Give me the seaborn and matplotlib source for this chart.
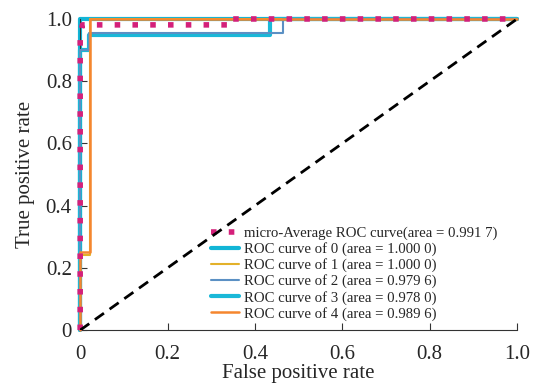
import matplotlib
matplotlib.use("Agg")
import matplotlib.pyplot as plt
import pandas as pd
import seaborn as sns

# ROC curve points
fpr_micro = [0.0, 0.0, 0.005, 0.35, 0.35, 1.0]
tpr_micro = [0.0, 0.95, 0.981, 0.981, 1.0, 1.0]

fpr_0 = [0.0, 0.0, 1.0]
tpr_0 = [0.0, 1.0, 1.0]

fpr_1 = [0.0, 0.0, 0.022, 0.022, 1.0]
tpr_1 = [0.0, 0.24, 0.24, 1.0, 1.0]

fpr_2 = [0.0, 0.0, 0.02, 0.02, 0.465, 0.465, 1.0]
tpr_2 = [0.0, 0.90, 0.90, 0.955, 0.955, 1.0, 1.0]

fpr_3 = [0.0, 0.0, 0.02, 0.02, 0.435, 0.435, 1.0]
tpr_3 = [0.0, 0.90, 0.90, 0.949, 0.949, 1.0, 1.0]

fpr_4 = [0.0, 0.0, 0.022, 0.022, 1.0]
tpr_4 = [0.0, 0.25, 0.25, 1.0, 1.0]

labels = ["micro-Average ROC curve(area = 0.991 7)",
          "ROC curve of 0 (area = 1.000 0)",
          "ROC curve of 1 (area = 1.000 0)",
          "ROC curve of 2 (area = 0.979 6)",
          "ROC curve of 3 (area = 0.978 0)",
          "ROC curve of 4 (area = 0.989 6)"]
ticks = [0, 0.2, 0.4, 0.6, 0.8, 1.0]
tick_labels = ["0", "0.2", "0.4", "0.6", "0.8", "1.0"]

sns.set_style("ticks")
plt.rcParams["font.family"] = ["Liberation Serif", "DejaVu Serif"]

fig = plt.figure(figsize=(5.53, 3.87), dpi=100)
ax = fig.add_axes([0.145, 0.147, 0.79, 0.804])

curves = [
    (fpr_0, tpr_0, "#12b5d6", 3.0, 1),
    (fpr_1, tpr_1, "#e3b12a", 1.5, 3),
    (fpr_2, tpr_2, "#5b90c4", 1.5, 3),
    (fpr_3, tpr_3, "#1ab8d8", 3.0, 2),
    (fpr_4, tpr_4, "#f5862e", 1.8, 4),
]
micro = pd.DataFrame({"fpr": fpr_micro, "tpr": tpr_micro})
sns.lineplot(data=micro, x="fpr", y="tpr", sort=False, estimator=None,
             color="#d4207a", lw=4, ls=(0, (1, 2.2)), label=labels[0],
             ax=ax, zorder=5, clip_on=False)
for (fx, ty, c, lw, z), lab in zip(curves, labels[1:]):
    d = pd.DataFrame({"fpr": fx, "tpr": ty})
    sns.lineplot(data=d, x="fpr", y="tpr", sort=False, estimator=None,
                 color=c, lw=lw, label=lab, ax=ax, zorder=z, clip_on=False)

ax.plot([0, 1], [0, 1], color="black", lw=2, ls=(0, (4, 2.5)), zorder=6)

ax.set_xlim(0, 1)
ax.set_ylim(0, 1)
ax.set_xticks(ticks)
ax.set_xticklabels(tick_labels)
ax.set_yticks(ticks)
ax.set_yticklabels(tick_labels)
ax.tick_params(direction="in", labelsize=15, length=5, color="#333333")
ax.tick_params(axis="x", pad=11)
ax.tick_params(axis="y", pad=6)
for s in ["top", "right"]:
    ax.spines[s].set_visible(False)
ax.spines["left"].set_color("#333333")
ax.spines["bottom"].set_color("#333333")
ax.set_xlabel("False positive rate", fontsize=15, labelpad=0)
ax.set_ylabel("True positive rate", fontsize=15, labelpad=8)

ax.legend(loc="lower left", bbox_to_anchor=(0.30, 0.03), frameon=False,
          fontsize=10.6, labelspacing=0.15, handlelength=1.9,
          handletextpad=0.35, borderaxespad=0.0, borderpad=0.0)

fig.savefig("out.png", dpi=100)
